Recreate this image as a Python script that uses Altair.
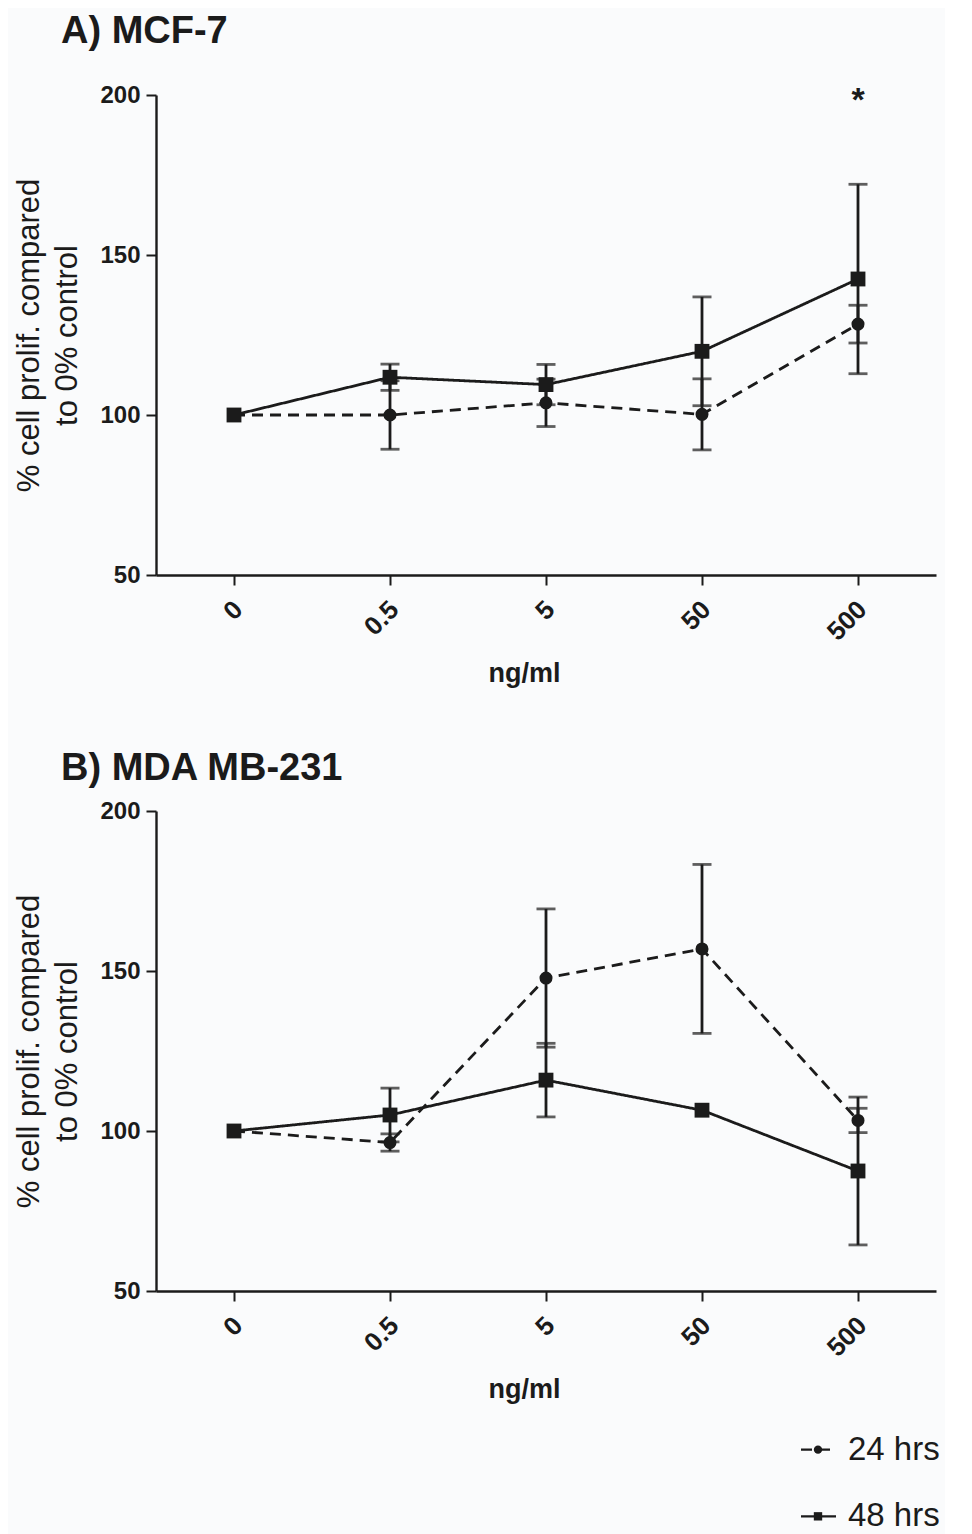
import altair as alt
import pandas as pd

# ---- data ----
conc = ["0", "0.5", "5", "50", "500"]
series_names = ["24 hrs", "48 hrs"]

a24_mean = [100, 100, 103.8, 100.2, 128.4]
a24_sem = [0, 10.7, 7.4, 11.1, 5.9]
a48_mean = [100, 111.8, 109.5, 119.9, 142.5]
a48_sem = [0, 4.1, 6.3, 17.0, 29.6]

b24_mean = [100, 96.4, 147.8, 156.9, 103.3]
b24_sem = [0, 2.7, 21.6, 26.4, 3.8]
b48_mean = [100, 105.0, 115.9, 106.5, 87.5]
b48_sem = [0, 8.4, 11.5, 0, 23.1]

star_conc = ["500"]
star_y = [200]
star_text = ["*"]

y_ticks = [50, 100, 150, 200]

FONT = "Liberation Sans"
INK = "#1b1b1b"
BG = "#fafbfc"


def frame(m24, s24, m48, s48):
    rows = []
    for name, m, s in [("24 hrs", m24, s24), ("48 hrs", m48, s48)]:
        for c, mv, sv in zip(conc, m, s):
            rows.append({"conc": c, "series": name, "mean": mv, "sem": sv,
                         "lo": mv - sv, "hi": mv + sv})
    return pd.DataFrame(rows)


x_enc = alt.X("conc:O", sort=conc,
              scale=alt.Scale(type="point", domain=conc, padding=0.5),
              axis=alt.Axis(title="ng/ml", labelAngle=-45, labelFontSize=26,
                            labelFontWeight="bold", labelFont=FONT, labelColor=INK,
                            tickSize=10, tickWidth=2, tickColor=INK,
                            domainWidth=2.4, domainColor=INK, labelPadding=11,
                            labelOffset=-5,
                            titleFontSize=27, titleFontWeight="bold", titleFont=FONT,
                            titleColor=INK, titlePadding=15, titleX=368, grid=False))

y_scale = alt.Scale(domain=[50, 200], nice=False, zero=False)
y_axis = alt.Axis(values=y_ticks, title=["% cell prolif. compared", "to 0% control"],
                  labelFontSize=24, labelFontWeight="bold", labelFont=FONT,
                  labelColor=INK, tickSize=10, tickWidth=2, tickColor=INK,
                  domainWidth=2.4, domainColor=INK, labelPadding=6,
                  titleFontSize=31, titleFontWeight="normal", titleFont=FONT,
                  titleColor=INK, titlePadding=16, titleLineHeight=38, grid=False)

dash_scale = alt.Scale(domain=series_names, range=[[11, 7], [1, 0]])
shape_scale = alt.Scale(domain=series_names, range=["circle", "square"])
size_scale = alt.Scale(domain=series_names, range=[170, 220])


def panel(df, title, title_offset, with_star=False):
    base = alt.Chart(df).encode(x=x_enc)
    lines = base.mark_line(color=INK, strokeWidth=2.8).encode(
        y=alt.Y("mean:Q", scale=y_scale, axis=y_axis),
        detail="series:N",
        strokeDash=alt.StrokeDash("series:N", scale=dash_scale, legend=None),
    )
    err = base.transform_filter("datum.sem > 0")
    bars = err.mark_rule(color=INK, strokeWidth=2.8).encode(
        y=alt.Y("lo:Q", scale=y_scale), y2="hi:Q")
    cap_lo = err.mark_tick(color=INK, orient="horizontal", size=19, thickness=2.8).encode(
        y=alt.Y("lo:Q", scale=y_scale))
    cap_hi = err.mark_tick(color=INK, orient="horizontal", size=19, thickness=2.8).encode(
        y=alt.Y("hi:Q", scale=y_scale))
    pts = base.mark_point(filled=True, color=INK, opacity=1).encode(
        y=alt.Y("mean:Q", scale=y_scale),
        shape=alt.Shape("series:N", scale=shape_scale, legend=None),
        size=alt.Size("series:N", scale=size_scale, legend=None),
    )
    layers = [lines, bars, cap_lo, cap_hi, pts]
    if with_star:
        sdf = pd.DataFrame({"conc": star_conc, "y": star_y, "t": star_text})
        star = alt.Chart(sdf).mark_text(fontSize=34, fontWeight="bold", font=FONT,
                                        color=INK, baseline="middle", dy=6).encode(
            x=alt.X("conc:O", sort=conc), y=alt.Y("y:Q", scale=y_scale), text="t:N")
        layers.append(star)
    return alt.layer(*layers).properties(
        width=780, height=480,
        title=alt.TitleParams(text=title, anchor="start", frame="group", dx=-95,
                              fontSize=38, fontWeight="bold", font=FONT, color=INK,
                              offset=title_offset),
    )


chart_a = panel(frame(a24_mean, a24_sem, a48_mean, a48_sem), "A) MCF-7", 32, True)
chart_b = panel(frame(b24_mean, b24_sem, b48_mean, b48_sem), "B) MDA MB-231", 11)

leg_df = pd.DataFrame({"series": series_names})
leg_base = alt.Chart(leg_df).encode(
    y=alt.Y("series:N", sort=series_names, axis=None,
            scale=alt.Scale(type="point", domain=series_names, padding=0.25)))
leg_line = leg_base.mark_rule(color=INK, strokeWidth=2.4).encode(
    x=alt.value(645), x2=alt.value(680),
    strokeDash=alt.StrokeDash("series:N", scale=dash_scale, legend=None))
leg_pt = leg_base.mark_point(filled=True, color=INK, opacity=1).encode(
    x=alt.value(662),
    shape=alt.Shape("series:N", scale=shape_scale, legend=None),
    size=alt.value(70))
leg_txt = leg_base.mark_text(align="left", baseline="middle", fontSize=33,
                             font=FONT, color=INK).encode(
    x=alt.value(692), text="series:N")
legend = alt.layer(leg_line, leg_pt, leg_txt).properties(width=780, height=100)

lower = alt.vconcat(chart_b, legend, spacing=30)
chart = alt.vconcat(chart_a, lower, spacing=63).configure(
    background=BG
).configure_view(stroke=None).resolve_scale(strokeDash="independent", shape="independent")

chart.save("out.html", embed_options={"renderer": "svg", "actions": False})
